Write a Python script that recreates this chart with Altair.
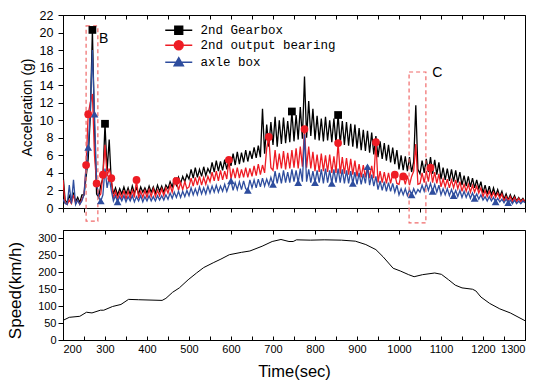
import altair as alt
import pandas as pd

# ---------------- data ----------------
T_START, T_STEP = 200, 5
SERIES = ["2nd Gearbox", "2nd output bearing", "axle box"]
COLORS = ["#000000", "#ee1c24", "#2e4d9e"]

gearbox = [
    3.9, 0.9, 0.6, 1.4, 0.8, 1.6, 0.7, 1.2, 0.6, 1.5,
    1.5, 3.5, 5.6, 10.5, 20.3, 9.0, 1.6, 1.2, 2.6, 3.4,
    9.6, 4.2, 7.8, 3.0, 1.6, 2.3, 1.5, 2.2, 1.6, 2.4,
    1.6, 2.3, 1.5, 2.5, 1.7, 2.3, 1.6, 2.4, 1.8, 2.3,
    1.7, 2.5, 1.8, 2.4, 1.7, 2.6, 1.9, 2.5, 1.8, 2.6,
    2.2, 3.0, 2.4, 3.3, 2.6, 3.5, 2.8, 3.6, 3.0, 3.8,
    3.3, 4.4, 3.4, 4.6, 3.5, 4.4, 3.6, 4.7, 3.7, 4.5,
    4.0, 5.2, 4.1, 5.4, 4.2, 5.3, 4.3, 5.5, 4.4, 5.6,
    4.8, 6.2, 4.9, 6.4, 5.0, 6.3, 5.2, 6.6, 5.3, 6.5,
    5.6, 6.9, 5.7, 7.1, 5.8, 11.3, 6.2, 9.5, 7.0, 9.8,
    7.2, 10.4, 7.0, 10.0, 7.3, 10.3, 7.4, 9.9, 7.5, 11.0,
    7.6, 10.6, 7.8, 11.5, 7.9, 15.0, 8.0, 12.2, 8.2, 11.3,
    7.8, 10.5, 7.7, 10.2, 7.6, 10.4, 7.7, 10.0, 7.5, 10.2,
    7.4, 10.6, 7.3, 9.9, 7.2, 9.8, 7.1, 9.6, 7.0, 9.5,
    6.8, 9.1, 6.6, 8.9, 6.5, 8.8, 6.3, 8.6, 6.1, 8.2,
    5.8, 7.6, 5.6, 7.4, 5.4, 7.2, 5.2, 6.9, 5.0, 6.6,
    4.4, 6.0, 4.3, 5.9, 4.2, 5.8, 4.1, 5.3, 11.7, 4.4,
    3.9, 5.4, 4.0, 5.6, 4.1, 5.8, 3.9, 5.5, 3.8, 5.2,
    3.3, 4.6, 3.2, 4.5, 3.1, 4.4, 3.0, 4.3, 2.9, 4.1,
    2.6, 3.7, 2.5, 3.6, 2.4, 3.4, 2.3, 3.2, 2.2, 3.0,
    1.7, 2.6, 1.6, 2.5, 1.5, 2.3, 1.4, 2.1, 1.3, 1.9,
    1.0, 1.6, 0.9, 1.5, 0.9, 1.4, 0.8, 1.2, 0.8, 1.1,
    0.7]

bearing = [
    3.2, 0.6, 0.4, 0.9, 0.5, 1.5, 0.5, 0.9, 0.4, 1.0,
    1.5, 4.9, 10.7, 12.0, 13.0, 6.0, 2.8, 1.3, 1.6, 3.8,
    7.2, 3.6, 4.5, 3.4, 1.1, 1.9, 1.0, 1.8, 1.1, 2.0,
    1.0, 1.9, 1.1, 2.0, 1.2, 3.2, 1.1, 1.9, 1.2, 2.0,
    1.2, 2.1, 1.3, 2.2, 1.3, 2.0, 1.4, 2.2, 1.4, 2.3,
    1.7, 2.6, 1.8, 2.8, 3.1, 2.0, 2.9, 2.1, 3.0, 2.2,
    2.4, 3.4, 2.5, 3.5, 2.6, 3.6, 2.6, 3.5, 2.7, 3.6,
    3.0, 4.1, 3.1, 4.2, 3.1, 4.3, 3.2, 4.2, 3.3, 5.5,
    3.3, 4.5, 3.4, 4.6, 3.4, 4.4, 3.5, 4.6, 3.5, 4.5,
    3.6, 4.8, 3.7, 5.0, 3.8, 4.9, 4.0, 6.8, 8.1, 4.6,
    4.3, 6.6, 4.4, 6.2, 4.5, 6.5, 4.4, 6.3, 4.5, 6.6,
    4.6, 6.8, 4.5, 7.0, 4.7, 9.0, 4.6, 7.0, 4.5, 6.4,
    4.2, 6.1, 4.1, 6.2, 4.2, 6.0, 4.1, 6.1, 4.0, 5.9,
    4.0, 7.4, 3.9, 5.8, 3.9, 5.7, 3.8, 5.6, 3.8, 5.4,
    3.6, 5.0, 3.5, 4.9, 3.5, 4.9, 3.4, 4.8, 3.4, 7.5,
    2.9, 4.2, 2.9, 4.1, 2.8, 4.0, 2.8, 3.9, 3.8, 2.8,
    2.7, 3.8, 3.6, 2.7, 3.7, 2.6, 3.6, 4.2, 7.3, 2.7,
    2.8, 4.0, 2.9, 4.2, 3.0, 4.6, 2.9, 4.1, 2.8, 3.9,
    2.4, 3.3, 2.4, 3.3, 2.3, 3.2, 2.3, 3.2, 2.2, 3.0,
    1.9, 2.7, 1.9, 2.7, 1.8, 2.6, 1.8, 2.5, 1.7, 2.3,
    1.3, 2.0, 1.3, 1.9, 1.2, 1.8, 1.2, 1.7, 1.1, 1.6,
    0.8, 1.3, 0.8, 1.3, 0.7, 1.2, 0.7, 1.1, 0.7, 1.0,
    0.7]

axle = [
    1.0, 0.5, 0.4, 2.6, 0.5, 3.2, 0.4, 0.9, 0.4, 0.8,
    1.5, 4.5, 6.9, 11.0, 18.0, 10.7, 3.0, 1.2, 0.8, 1.5,
    4.5, 2.3, 3.5, 2.0, 0.8, 1.4, 0.7, 1.3, 0.8, 1.4,
    0.7, 1.3, 0.8, 1.4, 0.7, 1.3, 0.8, 1.4, 0.7, 1.3,
    0.8, 1.4, 0.8, 1.3, 0.8, 1.4, 0.9, 1.4, 0.9, 1.5,
    1.0, 1.7, 1.1, 1.8, 1.2, 1.9, 1.2, 1.9, 1.3, 2.0,
    1.4, 2.3, 1.5, 2.2, 1.5, 2.4, 1.6, 2.3, 1.6, 2.5,
    1.7, 2.5, 1.8, 2.6, 1.8, 2.5, 1.9, 2.7, 1.9, 2.6,
    3.1, 2.0, 2.9, 2.1, 3.0, 2.1, 3.1, 2.2, 2.0, 3.2,
    2.3, 3.2, 2.3, 3.3, 2.4, 3.4, 2.5, 3.3, 2.6, 3.5,
    2.7, 4.2, 2.8, 4.0, 2.8, 4.3, 2.9, 4.1, 2.9, 4.4,
    3.0, 4.3, 2.9, 4.5, 3.0, 8.4, 3.0, 4.4, 2.9, 4.2,
    2.9, 4.3, 2.9, 4.4, 2.8, 4.5, 2.9, 4.3, 2.8, 4.4,
    2.9, 4.5, 2.9, 4.4, 2.8, 4.3, 2.8, 4.2, 2.8, 4.1,
    2.7, 4.0, 2.7, 3.9, 2.8, 4.7, 2.6, 3.8, 2.5, 3.6,
    2.1, 3.1, 2.0, 3.0, 1.9, 2.9, 1.9, 2.8, 1.8, 2.6,
    1.5, 2.2, 1.5, 2.2, 1.4, 2.1, 1.5, 2.2, 1.6, 2.1,
    1.8, 2.6, 1.9, 2.8, 2.0, 2.8, 1.9, 2.7, 1.8, 2.6,
    1.5, 2.2, 1.5, 2.2, 1.4, 2.1, 1.4, 2.0, 1.3, 2.0,
    1.2, 1.9, 1.2, 1.8, 1.1, 1.7, 1.1, 1.6, 1.0, 1.5,
    0.9, 1.3, 0.8, 1.3, 0.8, 1.2, 0.7, 1.1, 0.7, 1.0,
    0.6, 1.0, 0.6, 0.9, 0.5, 0.9, 0.5, 0.8, 0.5, 0.8,
    0.6]

gear_marks = [270, 300, 745, 855]
bear_marks = [255, 260, 280, 295, 315, 375, 470, 595, 690, 775, 855, 945, 990, 1010, 1075]
axle_marks = [260, 275, 290, 330, 600, 640, 700, 760, 800, 840, 890, 925, 1030, 1080,
              1130, 1180, 1230, 1260]

speed_t = [200, 215, 240, 256, 269, 289, 297, 318, 338, 356,
           380, 436, 445, 461, 477, 498, 518, 535, 559, 576,
           596, 625, 645, 674, 698, 719, 738, 748, 756, 789,
           822, 863, 896, 921, 945, 962, 986, 1003, 1023, 1036,
           1056, 1085, 1101, 1118, 1134, 1150, 1175, 1183, 1195, 1216,
           1240, 1265, 1300]
speed_v = [58, 67, 70, 82, 80, 88, 88, 99, 105, 120,
           119, 117, 123, 141, 154, 178, 198, 214, 229, 239,
           252, 259, 263, 277, 291, 297, 291, 291, 296, 295,
           296, 295, 292, 282, 267, 246, 212, 204, 193, 187,
           193, 198, 194, 178, 162, 154, 150, 145, 127, 108,
           92, 80, 57]

box_t1 = [255, 1024]
box_t2 = [283, 1064]
box_v1 = [-1.5, -1.7]
box_v2 = [20.75, 15.5]
note_t = [286, 1079]
note_v = [19.3, 15.4]
note_txt = ["B", "C"]

# ---------------- tables ----------------
times = [T_START + T_STEP * i for i in range(len(gearbox))]
rows = []
for name, vals, marks in zip(SERIES, [gearbox, bearing, axle], [gear_marks, bear_marks, axle_marks]):
    for t, v in zip(times, vals):
        rows.append({"t": t, "value": v, "series": name, "marker": t in marks})
acc = pd.DataFrame(rows)
speed_df = pd.DataFrame({"t": speed_t, "v": speed_v})
box_df = pd.DataFrame({"t1": box_t1, "t2": box_t2, "v1": box_v1, "v2": box_v2})
note_df = pd.DataFrame({"t": note_t, "v": note_v, "label": note_txt})

# ---------------- layout ----------------
W, H1, H2 = 462, 193, 110
XS = alt.Scale(domain=[200, 1300], nice=False, zero=False)
YS = alt.Scale(domain=[0, 22], nice=False)
YS2 = alt.Scale(domain=[0, 325], nice=False)
FONT = "Liberation Sans"
T50 = list(range(200, 1301, 50))
T100 = list(range(200, 1301, 100))

base = alt.Chart(acc)

y_top_axis = alt.Axis(values=list(range(0, 23, 2)), tickSize=5, labelFontSize=12.5,
                      labelPadding=5, title="Acceleration (g)", titleFontSize=14,
                      titleX=-36, titleY=92, titleBaseline="middle", titleAngle=270)
x_top_axis = alt.Axis(values=T50, labels=False, tickSize=4, title=None)
x_top_inward = alt.Axis(orient="bottom", offset=-H1, values=T50, labels=False,
                        domain=False, tickSize=4, title=None)


def line_layer(i, ax_x=None, ax_y=None):
    return base.transform_filter(alt.datum.series == SERIES[i]).mark_line(
        color=COLORS[i], strokeWidth=1.3, clip=True).encode(
        x=alt.X("t:Q", scale=XS, axis=ax_x),
        y=alt.Y("value:Q", scale=YS, axis=ax_y))


def marker_layer(i, shape, size):
    return base.transform_filter(
        (alt.datum.series == SERIES[i]) & alt.datum.marker).mark_point(
        shape=shape, size=size, filled=True, color=COLORS[i], opacity=1).encode(
        x=alt.X("t:Q", scale=XS, axis=None),
        y=alt.Y("value:Q", scale=YS, axis=None))


LEGEND_PATHS = [
    "M-2.7,0H2.7M-0.8,-0.8H0.8V0.8H-0.8Z",
    "M-2.7,0H2.7M-0.9,0A0.9,0.9 0 1,0 0.9,0A0.9,0.9 0 1,0 -0.9,0Z",
    "M-2.7,0H2.7M0,-0.95L0.95,0.7H-0.95Z",
]
leg = alt.Legend(orient="none", legendX=109.5, legendY=9, title=None, symbolSize=100,
                 symbolStrokeWidth=1.3, labelFont="Liberation Mono", labelFontSize=12.5,
                 labelColor="black", labelOffset=15.5, rowPadding=1, padding=0,
                 symbolOpacity=1)
legend_layer = base.transform_filter("false").mark_point(size=100, opacity=1).encode(
    x=alt.X("t:Q", scale=XS, axis=None),
    y=alt.Y("value:Q", scale=YS, axis=None),
    shape=alt.Shape("series:N", scale=alt.Scale(domain=SERIES, range=LEGEND_PATHS), legend=leg),
    fill=alt.Fill("series:N", scale=alt.Scale(domain=SERIES, range=COLORS), legend=leg),
    stroke=alt.Stroke("series:N", scale=alt.Scale(domain=SERIES, range=COLORS), legend=leg),
)

boxes = alt.Chart(box_df).mark_rect(fillOpacity=0, stroke="#f06a6a", strokeWidth=1.2,
                                    strokeDash=[4, 3]).encode(
    x=alt.X("t1:Q", scale=XS, axis=x_top_inward), x2="t2:Q",
    y=alt.Y("v1:Q", scale=YS, axis=None), y2="v2:Q")

notes = alt.Chart(note_df).mark_text(align="left", baseline="middle", fontSize=14,
                                     font=FONT, color="black").encode(
    x=alt.X("t:Q", scale=XS, axis=None),
    y=alt.Y("v:Q", scale=YS, axis=None),
    text="label:N")

top = alt.layer(
    line_layer(0, x_top_axis, y_top_axis),
    line_layer(1),
    line_layer(2),
    boxes,
    notes,
    marker_layer(0, "square", 60),
    marker_layer(1, "circle", 60),
    marker_layer(2, "triangle-up", 60),
    legend_layer,
).resolve_axis(x="independent", y="independent").properties(width=W, height=H1)

sp = alt.Chart(speed_df)
x_bottom_axis = alt.Axis(values=T100, ticks=False, tickSize=0, labelFontSize=11,
                         labelPadding=3, format="d", title="Time(sec)", titleFontSize=16.5,
                         titleX=W / 2, titleY=31, titleBaseline="middle")
y_bottom_axis = alt.Axis(values=list(range(0, 301, 50)), tickSize=5, labelFontSize=11,
                         labelPadding=2, title="Speed(km/h)", titleFontSize=17,
                         titleX=-48, titleY=60, titleBaseline="middle", titleAngle=270)
x_bot_inward = alt.Axis(orient="top", offset=-H2, values=T50, labels=False,
                        domain=False, tickSize=4, title=None)
x_bot_top_inward = alt.Axis(orient="bottom", offset=-H2, values=T100, labels=False,
                            domain=False, tickSize=4, title=None)

speed_line = sp.mark_line(color="black", strokeWidth=1).encode(
    x=alt.X("t:Q", scale=XS, axis=x_bottom_axis),
    y=alt.Y("v:Q", scale=YS2, axis=y_bottom_axis))
speed_ticks1 = sp.mark_line(strokeOpacity=0).encode(
    x=alt.X("t:Q", scale=XS, axis=x_bot_inward),
    y=alt.Y("v:Q", scale=YS2, axis=None))
speed_ticks2 = sp.mark_line(strokeOpacity=0).encode(
    x=alt.X("t:Q", scale=XS, axis=x_bot_top_inward),
    y=alt.Y("v:Q", scale=YS2, axis=None))

bottom = alt.layer(speed_line, speed_ticks1, speed_ticks2).resolve_axis(
    x="independent", y="independent").properties(width=W, height=H2)

chart = alt.vconcat(top, bottom, spacing=22, bounds="flush").properties(
    padding={"left": 5, "top": 8, "right": 5, "bottom": 5},
    background="white",
).configure_view(stroke="black", strokeWidth=1).configure_axis(
    labelFont=FONT, titleFont=FONT, labelColor="black", titleColor="black",
    domainColor="black", tickColor="black", titleFontWeight="normal", grid=False,
    domainWidth=1, tickWidth=1,
)

chart.save("out.html", embed_options={"renderer": "svg", "actions": False})
